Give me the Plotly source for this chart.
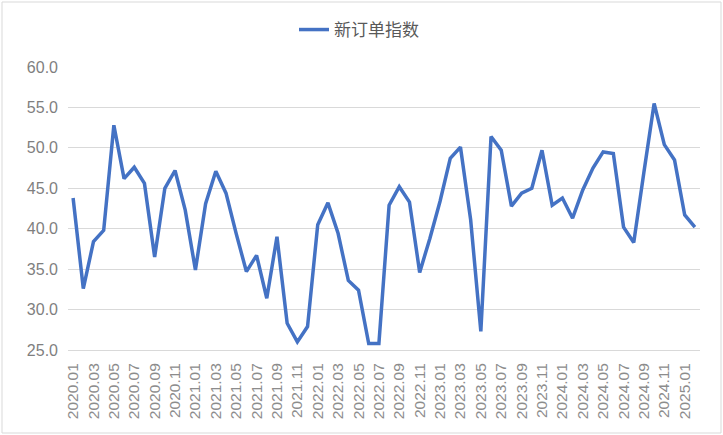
import plotly.graph_objects as go

months = [
    "2020.01","2020.02","2020.03","2020.04","2020.05","2020.06","2020.07","2020.08","2020.09","2020.10","2020.11","2020.12",
    "2021.01","2021.02","2021.03","2021.04","2021.05","2021.06","2021.07","2021.08","2021.09","2021.10","2021.11","2021.12",
    "2022.01","2022.02","2022.03","2022.04","2022.05","2022.06","2022.07","2022.08","2022.09","2022.10","2022.11","2022.12",
    "2023.01","2023.02","2023.03","2023.04","2023.05","2023.06","2023.07","2023.08","2023.09","2023.10","2023.11","2023.12",
    "2024.01","2024.02","2024.03","2024.04","2024.05","2024.06","2024.07","2024.08","2024.09","2024.10","2024.11","2024.12",
    "2025.01","2025.02",
]

new_orders = [
    43.8, 32.6, 38.4, 39.8, 52.8, 46.2, 47.6, 45.6, 36.5, 45.0, 47.2, 42.3,
    34.9, 43.1, 47.1, 44.4, 39.4, 34.7, 36.7, 31.4, 39.0, 28.3, 26.0, 27.9,
    40.5, 43.2, 39.4, 33.6, 32.4, 25.8, 25.8, 42.9, 45.2, 43.3, 34.6, 38.8,
    43.4, 48.7, 50.1, 41.1, 27.3, 51.4, 49.7, 42.8, 44.4, 45.0, 49.7, 42.9,
    43.8, 41.3, 44.8, 47.5, 49.5, 49.3, 40.2, 38.3, 47.0, 55.5, 50.4, 48.5,
    41.7, 40.2,
]

tick_labels = months[::2]
y_ticks = [25, 30, 35, 40, 45, 50, 55, 60]

font_family = "Liberation Sans, Arial, Noto Sans CJK SC, sans-serif"

fig = go.Figure()
fig.add_trace(go.Scatter(
    x=months, y=new_orders, mode="lines", name="新订单指数",
    line=dict(color="#4472C4", width=3.5),
))

L, R, T, B = 68, 23, 67, 85
W, H = 723, 435
pw, ph = W - L - R, H - T - B

fig.update_layout(
    width=W, height=H,
    margin=dict(l=L, r=R, t=T, b=B, autoexpand=False),
    paper_bgcolor="white", plot_bgcolor="white",
    font=dict(family=font_family, color="#666666"),
    showlegend=True,
    legend=dict(orientation="h", x=(359 - L) / pw, xanchor="center", y=1 + (67 - 30) / ph,
                yanchor="middle", font=dict(size=17, color="#595959")),
    xaxis=dict(
        type="category", tickmode="array", tickvals=tick_labels, ticktext=tick_labels,
        tickangle=-90, tickfont=dict(size=15.5, color="#8c8c8c"),
        showgrid=False, showline=True, linecolor="#d9d9d9", linewidth=1,
        ticks="", ticklabelstandoff=6, range=[-0.5, len(months) - 0.5],
    ),
    yaxis=dict(
        range=[25, 60], tickvals=y_ticks, tickformat=".1f",
        tickfont=dict(size=16, color="#7f7f7f"),
        showgrid=True, gridcolor="#d9d9d9", gridwidth=1,
        zeroline=False, showline=False, ticks="", ticklabelstandoff=9,
    ),
    shapes=[dict(
        type="rect", xref="paper", yref="paper",
        x0=(2 - L) / pw, x1=(W - 2 - L) / pw,
        y0=(H - B - (H - 2)) / ph, y1=(H - B - 2) / ph,
        line=dict(color="#d9d9d9", width=1), fillcolor="rgba(0,0,0,0)", layer="below",
    )],
)

fig.write_html("out.html", config={"displayModeBar": False},
               post_script="document.body.style.margin='0';document.body.style.overflow='hidden';")
